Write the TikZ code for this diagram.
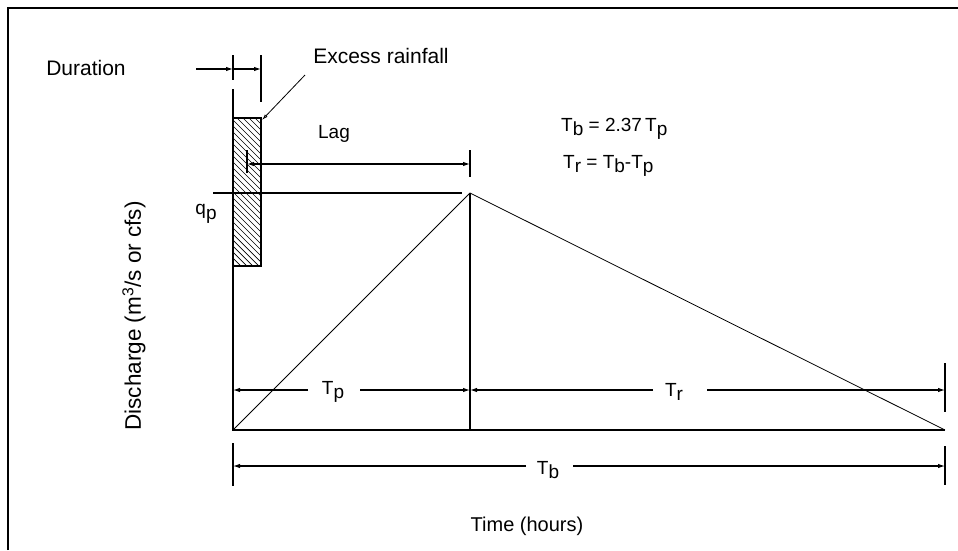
\documentclass[tikz,border=0pt]{standalone}
\usepackage{fontspec}
\setmainfont{Liberation Sans}
\usetikzlibrary{arrows.meta}
\newcommand\lowsub[2]{#1\raisebox{-0.45ex}{#2}}
\tikzset{
  frame/.style={line width=1.3pt},
  main/.style={line width=1.4pt},
  thin/.style={line width=0.8pt},
  dim/.style={line width=1.1pt},
  tip/.style={-{Latex[length=7pt,width=4.5pt]}},
  lbl/.style={inner sep=0pt, font=\fontsize{19}{22}\selectfont},
  biglbl/.style={inner sep=0pt, font=\fontsize{21}{24}\selectfont},
}
\begin{document}
\begin{tikzpicture}[x=1pt,y=-1pt]
\useasboundingbox (0,0) rectangle (958,550);
% frame
\draw[frame] (8,550) -- (8,8) -- (958,8);

% key points
\coordinate (O) at (233,430);
\coordinate (P) at (470,193);
\coordinate (E) at (945,430);
\coordinate (Ptop) at (470,150);
\coordinate (Pbase) at (470,430);

% hatched rainfall block
\begin{scope}
  \clip (233,118) rectangle (261,266);
  \foreach \k in {-40,-34,...,200} {
    \draw[line width=0.7pt] (233,118+\k) -- (261,146+\k);
  }
\end{scope}
\draw[main] (233,118) rectangle (261,266);

% axes and hydrograph
\draw[main] (233,89) -- (O) -- (E);
\draw[main] (P) -- (Pbase);
\draw[thin] (O) -- (P) -- (E);
\draw[dim] (213,193) -- (462,193);

% duration
\draw[dim] (233,55) -- (233,80);
\draw[dim] (261,55) -- (261,102);
\coordinate (d0) at (196,69);
\coordinate (d1) at (233,69);
\coordinate (d2) at (261,69);
\draw[dim,tip] (d0) -- (d1);
\draw[dim,tip] (d1) -- (d2);
\node[biglbl] (dur) at (86,68) {Duration};

% excess rainfall
\node[biglbl] (exc) at (381,56) {Excess rainfall};
\coordinate (l0) at (305,75);
\coordinate (l1) at (262,120);
\draw[thin,-{Latex[length=6pt,width=3.5pt,open]}] (l0) -- (l1);

% lag
\draw[dim] (247,150) -- (247,173);
\draw[dim] (Ptop) -- (470,177);
\coordinate (g0) at (247,164);
\coordinate (g1) at (470,164);
\draw[dim,{Latex[length=7pt,width=4.5pt]}-{Latex[length=7pt,width=4.5pt]}] (g0) -- (g1);
\node[lbl] (lag) at (334,134) {Lag};

% formulas
\node[lbl,anchor=west] (f1) at (561,129) {\lowsub{T}{b} = 2.37\,\lowsub{T}{p}};
\node[lbl,anchor=west] (f2) at (563,166) {\lowsub{T}{r} = \lowsub{T}{b}-\lowsub{T}{p}};

% qp
\node[lbl] (qp) at (206,214) {q\raisebox{-0.45ex}{p}};

% Tp and Tr dimensions
\draw[dim] (945,363) -- (945,412);
\node[lbl] (tp) at (333,392) {\lowsub{T}{p}};
\node[lbl] (tr) at (674,392) {\lowsub{T}{r}};
\coordinate (tpL) at (233,390);
\coordinate (tpR) at (470,390);
\coordinate (trR) at (945,390);
\draw[dim,tip] (308,390) -- (tpL);
\draw[dim,tip] (360,390) -- (tpR);
\draw[dim,tip] (653,390) -- (tpR);
\draw[dim,tip] (707,390) -- (trR);

% Tb dimension
\draw[dim] (233,443) -- (233,486);
\draw[dim] (945,446) -- (945,485);
\node[lbl] (tb) at (548,470) {\lowsub{T}{b}};
\coordinate (tbL) at (233,466);
\coordinate (tbR) at (945,466);
\draw[dim,tip] (526,466) -- (tbL);
\draw[dim,tip] (573,466) -- (tbR);

% axis labels
\node[inner sep=0pt,font=\fontsize{20}{23}\selectfont] (xlab) at (527,526) {Time (hours)};
\node[inner sep=0pt,font=\fontsize{22.5}{26}\selectfont,rotate=90] (ylab) at (134,316) {Discharge (m\textsuperscript{3}/s or cfs)};
\end{tikzpicture}
\end{document}
